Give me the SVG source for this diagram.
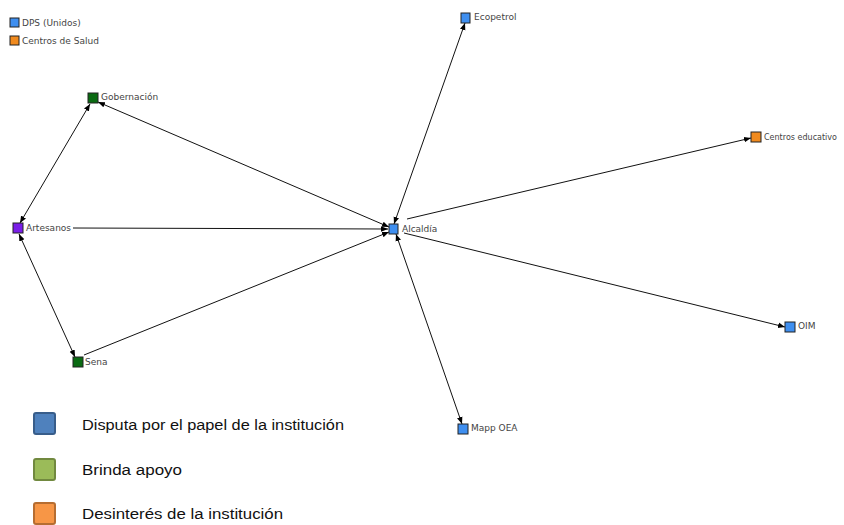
<svg xmlns="http://www.w3.org/2000/svg" width="844" height="525" viewBox="0 0 844 525">
<defs>
<marker id="ah" viewBox="0 0 10 10" refX="10" refY="5" markerWidth="7" markerHeight="7" markerUnits="userSpaceOnUse" orient="auto-start-reverse">
<path d="M0,1 L10,5 L0,9 z" fill="#000"/>
</marker>
</defs>
<style>
.edge{stroke:#111;stroke-width:1;fill:none}
.n{stroke:#222;stroke-width:1}
.blue{fill:#3f8ff0}
.orange{fill:#f08a1e}
.green{fill:#0a6a12}
.purple{fill:#7a1ee8}
.lbl{font-family:"DejaVu Sans",Verdana,sans-serif;font-size:9px;fill:#444}
.leg{font-family:"Liberation Sans",Arial,sans-serif;font-size:14px;fill:#111}
</style>
<rect width="844" height="525" fill="#fff"/>
<g id="connectors">
<line class="edge" x1="90" y1="104" x2="20" y2="223" marker-start="url(#ah)" marker-end="url(#ah)"/>
<line class="edge" x1="98" y1="102" x2="389" y2="227" marker-start="url(#ah)" marker-end="url(#ah)"/>
<line class="edge" x1="73" y1="228" x2="388" y2="229" marker-end="url(#ah)"/>
<line class="edge" x1="19" y1="234" x2="75" y2="357" marker-start="url(#ah)" marker-end="url(#ah)"/>
<line class="edge" x1="84" y1="355" x2="389" y2="232" marker-end="url(#ah)"/>
<line class="edge" x1="394" y1="224" x2="465" y2="23" marker-start="url(#ah)" marker-end="url(#ah)"/>
<line class="edge" x1="407" y1="219" x2="751" y2="138" marker-end="url(#ah)"/>
<line class="edge" x1="404" y1="233" x2="785" y2="327" marker-end="url(#ah)"/>
<line class="edge" x1="396" y1="234" x2="462" y2="424" marker-start="url(#ah)" marker-end="url(#ah)"/>
</g>
<g id="dps"><rect class="n blue" x="10" y="18" width="9" height="9"/><text class="lbl" x="22" y="26">DPS (Unidos)</text></g>
<g id="centros-salud"><rect class="n orange" x="10" y="36" width="9" height="9"/><text class="lbl" x="22" y="44">Centros de Salud</text></g>
<g id="gobernacion"><rect class="n green" x="88" y="93" width="10" height="10"/><text class="lbl" x="101" y="100">Gobernación</text></g>
<g id="artesanos"><rect class="n purple" x="13" y="223" width="10" height="10"/><text class="lbl" x="26" y="231">Artesanos</text></g>
<g id="alcaldia"><rect class="n blue" x="389" y="224" width="9" height="10"/><text class="lbl" x="402" y="232">Alcaldía</text></g>
<g id="sena"><rect class="n green" x="73" y="357" width="10" height="10"/><text class="lbl" x="85" y="365">Sena</text></g>
<g id="ecopetrol"><rect class="n blue" x="461" y="13" width="9" height="10"/><text class="lbl" x="474" y="20">Ecopetrol</text></g>
<g id="centros-educativo"><rect class="n orange" x="751" y="132" width="10" height="10"/><text class="lbl" x="764" y="140" style="font-size:8.5px" textLength="73" lengthAdjust="spacingAndGlyphs">Centros educativo</text></g>
<g id="oim"><rect class="n blue" x="785" y="322" width="10" height="10"/><text class="lbl" x="798" y="329">OIM</text></g>
<g id="mapp-oea"><rect class="n blue" x="458" y="424" width="10" height="10"/><text class="lbl" x="471" y="431">Mapp OEA</text></g>
<g id="legend">
<rect x="34" y="413" width="21" height="21" rx="2" fill="#4f81bd" stroke="#385d8a" stroke-width="2"/>
<text class="leg" x="82" y="430" textLength="262" lengthAdjust="spacingAndGlyphs">Disputa por el papel de la institución</text>
<rect x="34" y="459" width="21" height="21" rx="2" fill="#9bbb59" stroke="#71893f" stroke-width="2"/>
<text class="leg" x="82" y="475" textLength="100" lengthAdjust="spacingAndGlyphs">Brinda apoyo</text>
<rect x="34" y="503" width="21" height="21" rx="2" fill="#f79646" stroke="#b66d31" stroke-width="2"/>
<text class="leg" x="82" y="519" textLength="201" lengthAdjust="spacingAndGlyphs">Desinterés de la institución</text>
</g>
</svg>
